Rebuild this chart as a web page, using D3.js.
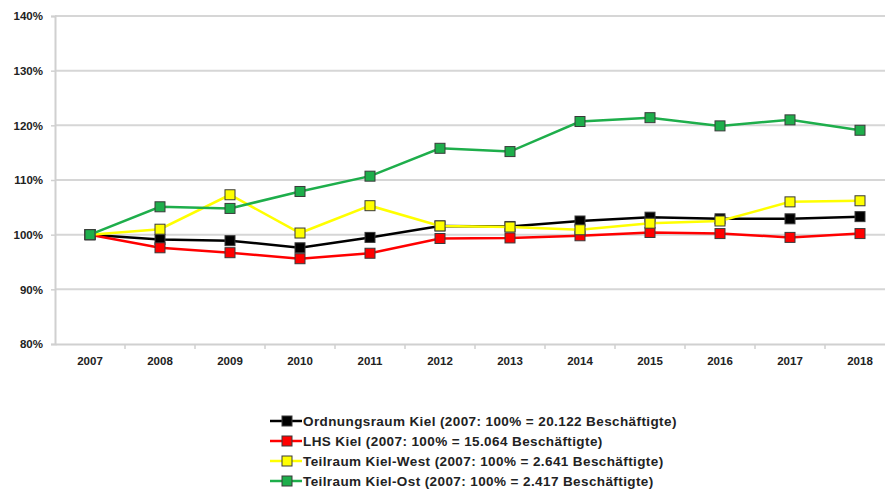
<!DOCTYPE html>
<html><head><meta charset="utf-8">
<script src="https://cdn.jsdelivr.net/npm/d3@7"></script>
<style>body{margin:0;background:#fff}svg{display:block}</style>
</head><body>
<svg id="c" width="885" height="493"></svg>
<script>
const years = ["2007","2008","2009","2010","2011","2012","2013","2014","2015","2016","2017","2018"];
const ordnungsraum = [100, 99.1, 98.9, 97.6, 99.5, 101.6, 101.5, 102.5, 103.2, 102.9, 102.9, 103.3];
const lhsKiel      = [100, 97.6, 96.7, 95.6, 96.6, 99.3, 99.4, 99.8, 100.4, 100.2, 99.5, 100.2];
const kielWest     = [100, 101.0, 107.3, 100.3, 105.3, 101.6, 101.4, 100.9, 102.1, 102.5, 106.0, 106.2];
const kielOst      = [100, 105.1, 104.8, 107.9, 110.7, 115.8, 115.2, 120.7, 121.4, 119.9, 121.0, 119.1];
const yTicks = [80, 90, 100, 110, 120, 130, 140];
const seriesNames = [
  "Ordnungsraum Kiel (2007: 100% = 20.122 Beschäftigte)",
  "LHS Kiel (2007: 100% = 15.064 Beschäftigte)",
  "Teilraum Kiel-West (2007: 100% = 2.641 Beschäftigte)",
  "Teilraum Kiel-Ost (2007: 100% = 2.417 Beschäftigte)"
];
const seriesValues = [ordnungsraum, lhsKiel, kielWest, kielOst];
const seriesColors = ["#000000", "#ff0000", "#ffff00", "#1eae4b"];

const svg = d3.select("#c");
const x = d3.scaleBand().domain(years).range([55, 895]);
const y = d3.scaleLinear().domain([80, 140]).range([344, 16]);
const font = "'Liberation Sans', Arial, sans-serif";

// gridlines
svg.append("g").selectAll("line").data(yTicks.filter(d => d > 80)).join("line")
  .attr("x1", 55).attr("x2", 895)
  .attr("y1", d => y(d)).attr("y2", d => y(d))
  .attr("stroke", "#d6d6d6").attr("stroke-width", 2);

// y axis
const ya = svg.append("g").attr("transform", "translate(55,0)")
  .call(d3.axisLeft(y).tickValues(yTicks).tickFormat(d => d + "%").tickSize(4).tickPadding(8));
ya.select(".domain").attr("stroke", "#d0d0d0").attr("stroke-width", 2);
ya.selectAll(".tick line").attr("stroke", "#d0d0d0").attr("stroke-width", 1.5);
ya.selectAll("text").attr("font-family", font).attr("font-size", 11.5).attr("font-weight", "bold").attr("fill", "#222");

// x axis
const xa = svg.append("g").attr("transform", "translate(0,344)")
  .call(d3.axisBottom(x).tickSize(0).tickPadding(13));
xa.select(".domain").attr("stroke", "#d0d0d0").attr("stroke-width", 2);
xa.selectAll("text").attr("font-family", font).attr("font-size", 11.5).attr("font-weight", "bold").attr("fill", "#222");
// band boundary ticks
svg.append("g").selectAll("line").data(years.slice(1)).join("line")
  .attr("x1", d => x(d)).attr("x2", d => x(d)).attr("y1", 344).attr("y2", 349)
  .attr("stroke", "#d0d0d0").attr("stroke-width", 1.5);

const cx = d => x(d) + x.bandwidth() / 2;
const line = d3.line().x((d, i) => cx(years[i])).y(d => y(d));

seriesValues.forEach((vals, k) => {
  const g = svg.append("g");
  g.append("path").datum(vals).attr("d", line).attr("fill", "none")
    .attr("stroke", seriesColors[k]).attr("stroke-width", 2.5);
  g.selectAll("rect").data(vals).join("rect")
    .attr("x", (d, i) => cx(years[i]) - 5).attr("y", d => y(d) - 5)
    .attr("width", 10).attr("height", 10)
    .attr("fill", seriesColors[k]).attr("stroke", "#3a3a3a").attr("stroke-width", 1);
});

// legend
const lg = svg.append("g");
seriesNames.forEach((name, k) => {
  const ly = 421 + k * 20;
  lg.append("line").attr("x1", 270).attr("x2", 302).attr("y1", ly).attr("y2", ly)
    .attr("stroke", seriesColors[k]).attr("stroke-width", 2.5);
  lg.append("rect").attr("x", 282).attr("y", ly - 5).attr("width", 10).attr("height", 10)
    .attr("fill", seriesColors[k]).attr("stroke", "#3a3a3a").attr("stroke-width", 1);
  lg.append("text").attr("x", 303).attr("y", ly).attr("dy", "0.35em")
    .attr("font-family", font).attr("font-size", 13.5).attr("font-weight", "bold")
    .attr("letter-spacing", 0.4)
    .attr("fill", "#222").text(name);
});
</script>
</body></html>
